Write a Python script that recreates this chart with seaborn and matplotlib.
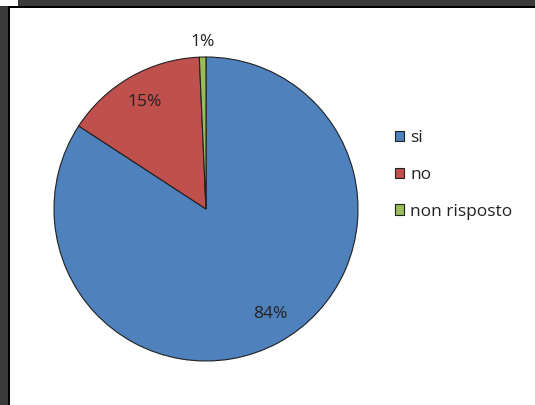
import matplotlib
matplotlib.use("Agg")
import matplotlib.pyplot as plt
import seaborn as sns
import numpy as np
from matplotlib.patches import Rectangle, Patch

categories = ["si", "no", "non risposto"]
values = [84.2, 15.1, 0.7]
pct_labels = ["84%", "15%", "1%"]
colors = ["#4F81BD", "#C0504D", "#9BBB59"]

sns.set_theme(style="white")
plt.rcParams["font.family"] = ["Open Sans", "DejaVu Sans"]

W, H = 535, 405
fig = plt.figure(figsize=(W / 100, H / 100), dpi=100)
fig.patch.set_facecolor("white")

# frame
def rect(x0, y0, x1, y1, c):
    fig.patches.append(Rectangle((x0 / W, 1 - y1 / H), (x1 - x0) / W, (y1 - y0) / H,
                                 transform=fig.transFigure, facecolor=c, edgecolor="none", zorder=0))
rect(18, 0, W, 6, "#3a3a3a")
rect(0, 6, 8, H, "#3a3a3a")
rect(8, 6, W, 8, "#000000")
rect(8, 6, 10, H, "#000000")

cx, cy, r = 206, 209, 152
ax = fig.add_axes([(cx - r) / W, (H - cy - r) / H, 2 * r / W, 2 * r / H])
wedges, texts, autotexts = ax.pie(values, colors=colors, startangle=90, counterclock=False,
                                  autopct=lambda p: "", pctdistance=0.8,
                                  wedgeprops=dict(edgecolor="#202020", linewidth=0.8))
ax.set_xlim(-1, 1)
ax.set_ylim(-1, 1)
ax.set_aspect("auto")
ax.axis("off")

for i, (w, t, lab) in enumerate(zip(wedges, autotexts, pct_labels)):
    ang = np.deg2rad((w.theta1 + w.theta2) / 2 + (3 if i == 0 else 0))
    d = 0.81 if (w.theta2 - w.theta1) > 20 else 1.1
    t.set_position((d * np.cos(ang), d * np.sin(ang)))
    t.set_text(lab)
    t.set_fontsize(12.5)
    t.set_color("#222222")
    t.set_ha("center")
    t.set_va("center")

handles = [Patch(facecolor=c, edgecolor="#202020", linewidth=0.8) for c in colors]
leg = fig.legend(handles, categories, loc="center left", bbox_to_anchor=(386 / W, 1 - 175 / H),
                 frameon=False, fontsize=12.5, handlelength=0.55, handleheight=0.55,
                 handletextpad=0.35, labelspacing=1.2, borderpad=0)
for t in leg.get_texts():
    t.set_color("#222222")

fig.savefig("out.png", dpi=100)
